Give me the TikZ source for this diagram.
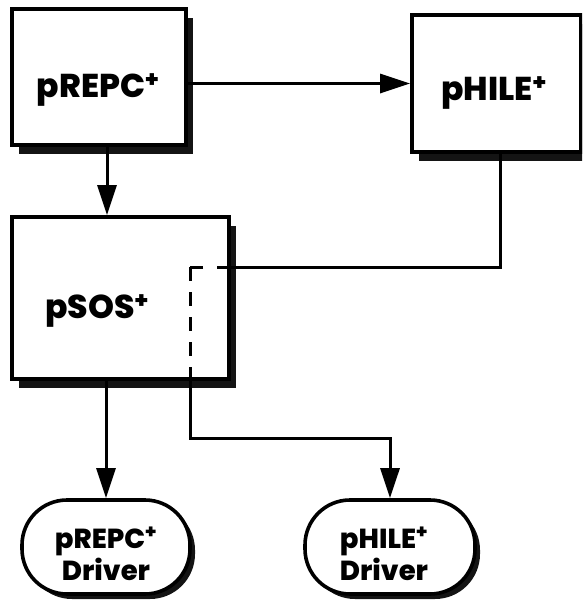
\documentclass[tikz,border=0pt]{standalone}
\usepackage{fontspec}
\setmainfont{Poppins}[BoldFont={Poppins ExtraBold}]
\usetikzlibrary{arrows.meta,shadows}
\begin{document}
\begin{tikzpicture}[x=1pt,y=-1pt,
  box/.style={draw, line width=3.6pt, fill=white, rectangle, inner sep=0pt,
    drop shadow={shadow xshift=7pt, shadow yshift=-9pt, fill=black!92, opacity=1}},
  drvbox/.style={draw, line width=3.6pt, fill=white, rectangle, rounded corners=45pt, inner sep=0pt,
    drop shadow={shadow xshift=5pt, shadow yshift=-5pt, fill=black!92, opacity=1}},
  bigtxt/.style={font=\bfseries\fontsize{33}{38}\selectfont, inner sep=0pt, anchor=base},
  smalltxt/.style={font=\bfseries\fontsize{27.5}{32}\selectfont, inner sep=0pt, anchor=base},
  conn/.style={line width=3pt},
  arr/.style={conn, -{Triangle[length=30pt,width=19pt]}},
  dashconn/.style={line width=3pt, dash pattern=on 14pt off 11pt}
]
\useasboundingbox (0,0) rectangle (582,603);
\clip (0,0) rectangle (582,603);

% boxes
\node[box, minimum width=174pt, minimum height=136pt] (prepc) at (99,77) {};
\node[box, minimum width=169pt, minimum height=137pt] (phile) at (496.5,83.5) {};
\node[box, minimum width=217pt, minimum height=162pt] (psos) at (120.5,298) {};
\node[drvbox, minimum width=168pt, minimum height=94pt] (drv1) at (106,547) {};
\node[drvbox, minimum width=170pt, minimum height=94pt] (drv2) at (390,547) {};

% texts
\node[bigtxt] (prepct) at (98,97) {pREPC\textsuperscript{+}};
\node[bigtxt] (philet) at (494,100) {pHILE\textsuperscript{+}};
\node[bigtxt] (psost) at (97,318) {pSOS\textsuperscript{+}};
\node[smalltxt] (drv1a) at (106,548) {pREPC\textsuperscript{+}};
\node[smalltxt] (drv1b) at (106,580) {Driver};
\node[smalltxt] (drv2a) at (384,548) {pHILE\textsuperscript{+}};
\node[smalltxt] (drv2b) at (384,580) {Driver};

% routing points
\coordinate (ax) at (107,0);
\coordinate (c1) at (500,267);
\coordinate (c2) at (190,267);
\coordinate (c2b) at (203,267);
\coordinate (c2c) at (217,267);
\coordinate (c3) at (190,367);
\coordinate (c4) at (190,438);

% connectors
\draw[arr] (prepc.east |- phile.west) -- (phile.west);
\draw[arr] (prepc.south -| ax) -- (psos.north -| ax);
\draw[arr] (psos.south -| drv1.north) -- (drv1.north);
\draw[conn] (phile.south -| c1) -- (c1) -- (c2c);
\draw[conn] (c2b) -- (c2);
\draw[dashconn] (c2) -- (c3);
\draw[arr] (c3) -- (c4) -| (drv2.north);
\end{tikzpicture}
\end{document}
